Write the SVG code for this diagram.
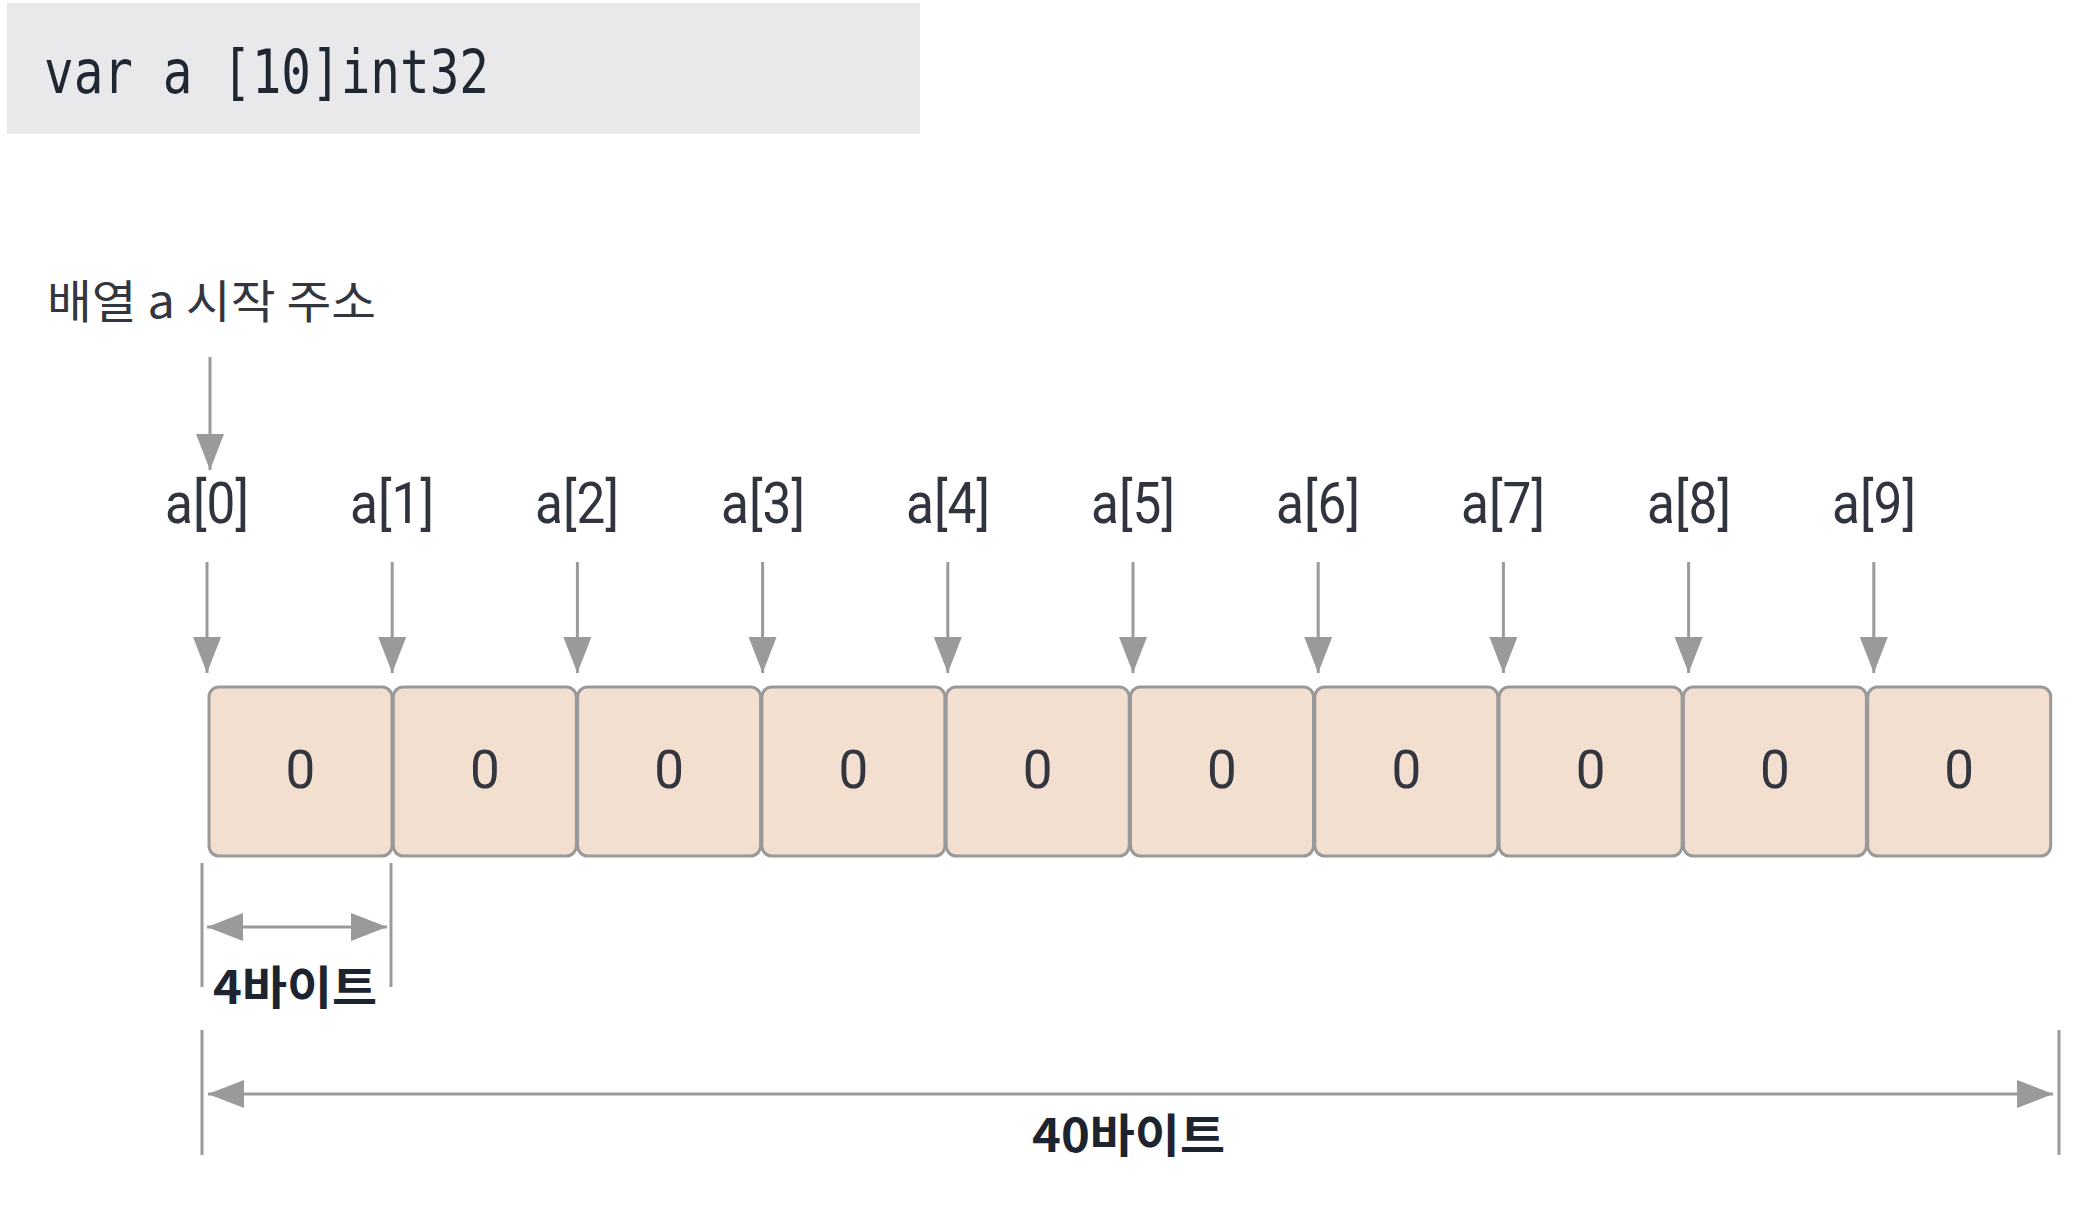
<svg xmlns="http://www.w3.org/2000/svg" width="2084" height="1210" viewBox="0 0 2084 1210">
<style>
.code{font-family:"DejaVu Sans Mono","Liberation Mono",monospace;font-size:60px;fill:#1f2733}
.lbl{font-family:Roboto,"Noto Sans","Noto Sans CJK KR",sans-serif;font-size:58px;fill:#30343e;text-anchor:middle}
.kr{font-family:"Noto Sans CJK KR","Noto Sans",sans-serif;font-size:46px;fill:#33363f}
.krb{font-family:"Noto Sans CJK KR","Noto Sans",sans-serif;font-size:46px;font-weight:700;fill:#1d2430}
.cell rect{fill:#f2dfcf;stroke:#999;stroke-width:3}
.cell text{font-family:Roboto,"Noto Sans",sans-serif;font-size:53px;fill:#33363f;text-anchor:middle}
.ln{stroke:#9a9a9a;stroke-width:3;fill:none}
</style>
<defs>
<marker id="ah" markerUnits="userSpaceOnUse" markerWidth="40" markerHeight="30" refX="36" refY="14" orient="auto-start-reverse">
<path d="M0,0 L36,14 L0,28 z" fill="#9a9a9a"/>
</marker>
</defs>
<rect width="2084" height="1210" fill="#ffffff"/>
<g id="code">
<rect x="7" y="3" width="913" height="131" fill="#e9e9eb"/>
<text class="code" x="44" y="93" textLength="445" lengthAdjust="spacingAndGlyphs">var a [10]int32</text>
</g>
<g id="start-label">
<text class="kr" x="47" y="318" textLength="329" lengthAdjust="spacingAndGlyphs">배열 a 시작 주소</text>
</g>
<g id="labels">
<text class="lbl" x="207" y="523" textLength="84" lengthAdjust="spacingAndGlyphs">a[0]</text>
<text class="lbl" x="392" y="523" textLength="84" lengthAdjust="spacingAndGlyphs">a[1]</text>
<text class="lbl" x="577" y="523" textLength="84" lengthAdjust="spacingAndGlyphs">a[2]</text>
<text class="lbl" x="763" y="523" textLength="84" lengthAdjust="spacingAndGlyphs">a[3]</text>
<text class="lbl" x="948" y="523" textLength="84" lengthAdjust="spacingAndGlyphs">a[4]</text>
<text class="lbl" x="1133" y="523" textLength="84" lengthAdjust="spacingAndGlyphs">a[5]</text>
<text class="lbl" x="1318" y="523" textLength="84" lengthAdjust="spacingAndGlyphs">a[6]</text>
<text class="lbl" x="1503" y="523" textLength="84" lengthAdjust="spacingAndGlyphs">a[7]</text>
<text class="lbl" x="1689" y="523" textLength="84" lengthAdjust="spacingAndGlyphs">a[8]</text>
<text class="lbl" x="1874" y="523" textLength="84" lengthAdjust="spacingAndGlyphs">a[9]</text>
</g>
<g id="cells">
<g id="cell0" class="cell"><rect x="209" y="687" width="183" height="169" rx="10"/><text x="300.5" y="788">0</text></g>
<g id="cell1" class="cell"><rect x="393.3" y="687" width="183" height="169" rx="10"/><text x="484.8" y="788">0</text></g>
<g id="cell2" class="cell"><rect x="577.6" y="687" width="183" height="169" rx="10"/><text x="669.1" y="788">0</text></g>
<g id="cell3" class="cell"><rect x="761.9" y="687" width="183" height="169" rx="10"/><text x="853.4" y="788">0</text></g>
<g id="cell4" class="cell"><rect x="946.2" y="687" width="183" height="169" rx="10"/><text x="1037.7" y="788">0</text></g>
<g id="cell5" class="cell"><rect x="1130.5" y="687" width="183" height="169" rx="10"/><text x="1222" y="788">0</text></g>
<g id="cell6" class="cell"><rect x="1314.8" y="687" width="183" height="169" rx="10"/><text x="1406.3" y="788">0</text></g>
<g id="cell7" class="cell"><rect x="1499.1" y="687" width="183" height="169" rx="10"/><text x="1590.6" y="788">0</text></g>
<g id="cell8" class="cell"><rect x="1683.4" y="687" width="183" height="169" rx="10"/><text x="1774.9" y="788">0</text></g>
<g id="cell9" class="cell"><rect x="1867.7" y="687" width="183" height="169" rx="10"/><text x="1959.2" y="788">0</text></g>
</g>
<g id="connectors">
<line class="ln" x1="210" y1="357" x2="210" y2="470" marker-end="url(#ah)"/>
<line class="ln" x1="207" y1="562" x2="207" y2="673" marker-end="url(#ah)"/>
<line class="ln" x1="392.2" y1="562" x2="392.2" y2="673" marker-end="url(#ah)"/>
<line class="ln" x1="577.4" y1="562" x2="577.4" y2="673" marker-end="url(#ah)"/>
<line class="ln" x1="762.6" y1="562" x2="762.6" y2="673" marker-end="url(#ah)"/>
<line class="ln" x1="947.8" y1="562" x2="947.8" y2="673" marker-end="url(#ah)"/>
<line class="ln" x1="1133" y1="562" x2="1133" y2="673" marker-end="url(#ah)"/>
<line class="ln" x1="1318.2" y1="562" x2="1318.2" y2="673" marker-end="url(#ah)"/>
<line class="ln" x1="1503.4" y1="562" x2="1503.4" y2="673" marker-end="url(#ah)"/>
<line class="ln" x1="1688.6" y1="562" x2="1688.6" y2="673" marker-end="url(#ah)"/>
<line class="ln" x1="1873.8" y1="562" x2="1873.8" y2="673" marker-end="url(#ah)"/>
<line class="ln" x1="202" y1="863" x2="202" y2="987"/>
<line class="ln" x1="391" y1="863" x2="391" y2="987"/>
<line class="ln" x1="207" y1="927" x2="387" y2="927" marker-start="url(#ah)" marker-end="url(#ah)"/>
<line class="ln" x1="202" y1="1030" x2="202" y2="1155"/>
<line class="ln" x1="2059" y1="1030" x2="2059" y2="1155"/>
<line class="ln" x1="208" y1="1094" x2="2053" y2="1094" marker-start="url(#ah)" marker-end="url(#ah)"/>
</g>
<g id="dim-labels">
<text class="krb" x="213" y="1004" textLength="164" lengthAdjust="spacingAndGlyphs">4바이트</text>
<text class="krb" x="1032" y="1152" textLength="193" lengthAdjust="spacingAndGlyphs">40바이트</text>
</g>
</svg>
